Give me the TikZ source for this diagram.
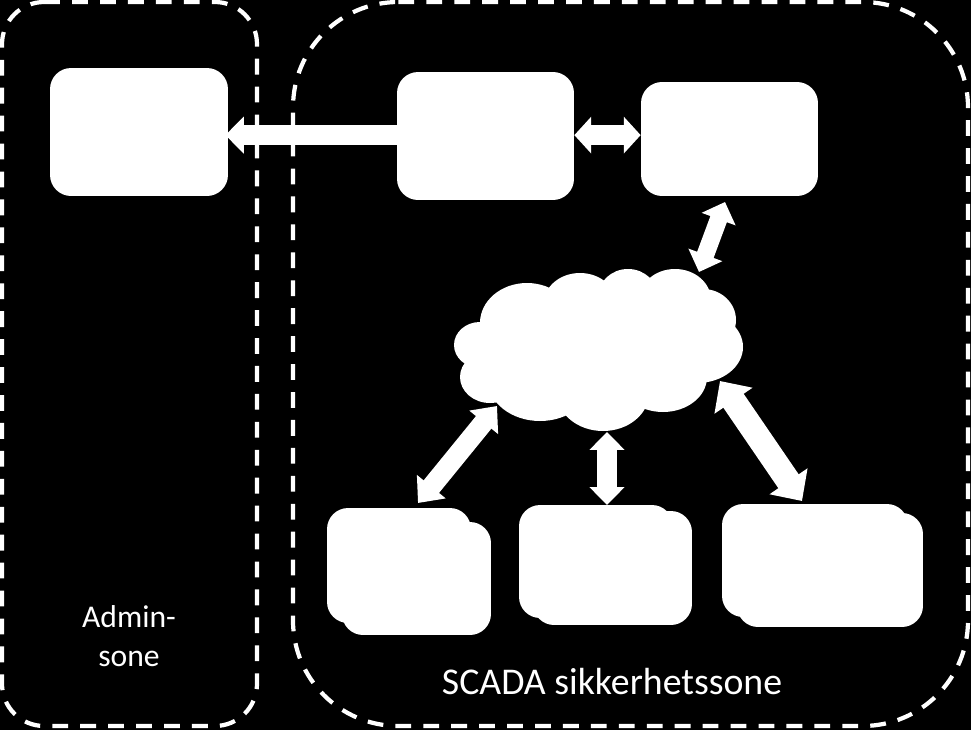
\documentclass[tikz,border=0pt]{standalone}
\usepackage{fontspec}
\setmainfont{Carlito}
\usetikzlibrary{arrows.meta,shapes.geometric}
\begin{document}
\begin{tikzpicture}[line cap=butt,line join=miter,x=0.02cm,y=-0.02cm,font=\fontsize{18}{22.6}\selectfont]
	\tikzset{
		zone/.style={draw=white,line width=2.4pt,dash pattern=on 9pt off 6.9pt},
		box/.style={fill=white,rounded corners=12pt,inner sep=0pt},
		link/.style n args={3}{draw=white,line width=#1pt,
			{Triangle[length=#2pt,width=#3pt,fill=white]}-{Triangle[length=#2pt,width=#3pt,fill=white]}},
		linkone/.style={draw=white,line width=11.3pt,-{Triangle[length=10.5pt,width=20.4pt,fill=white]}},
		label/.style={text=white,align=center,inner sep=0pt}}
	\path[use as bounding box,fill=black] (0,0) rectangle (971,730);
	%--------- Soner
	\draw[zone] (2,2) [rounded corners=24pt] -- (257,2) -- (257,726) -- (2,726) -- cycle;
	\draw[zone] (293,2) [rounded corners=60pt] -- (968,2) -- (968,726) -- (293,726) -- cycle;
	\node[label] (adminzone) at (129,636) {Admin-\\sone};
	\node[label,font=\fontsize{21.5}{26}\selectfont] (scadazone) at (612,682) {SCADA sikkerhetssone};
	%--------- Bokser
	\node[box,minimum width=3.56cm,minimum height=2.56cm] (admin) at (139,132) {};
	\node[box,minimum width=3.54cm,minimum height=2.56cm] (server) at (485.5,136) {};
	\node[box,minimum width=3.54cm,minimum height=2.28cm] (gateway) at (729.5,139) {};
	\node[box,minimum width=2.98cm,minimum height=2.26cm] (stackAback) at (416.5,578.5) {};
	\node[box,minimum width=2.88cm,minimum height=2.30cm] (stackA) at (399,565.5) {};
	\node[box,minimum width=3.18cm,minimum height=2.28cm] (stackBback) at (612.5,568) {};
	\node[box,minimum width=3.08cm,minimum height=2.26cm] (stackB) at (596,561.5) {};
	\node[box,minimum width=3.72cm,minimum height=2.28cm] (stackCback) at (830,570) {};
	\node[box,minimum width=3.72cm,minimum height=2.26cm] (stackC) at (815,560.5) {};
	%--------- Sky
	\node[ellipse,fill=white,minimum width=4.4cm,minimum height=2.4cm,inner sep=0pt] (net) at (600,350) {};
	\foreach \cx/\cy/\rx/\ry in {527/323/47/40,580/303/36/30,628/297/30/28,675/300/36/31,703/320/33/31,
		697/347/46/36,663/377/44/35,603/393/46/38,540/380/52/41,490/377/30/26,480/345/26/23}
		\fill[white] (\cx,\cy) ellipse [x radius=\rx,y radius=\ry];
	%--------- Piler
	\coordinate (gatewayend) at (725,202);
	\coordinate (nettop) at (699,272);
	\coordinate (netleft) at (497,406);
	\coordinate (stackAend) at (418,503);
	\coordinate (netmid) at (607,432);
	\coordinate (stackBend) at (607,505);
	\coordinate (netright) at (720,381);
	\coordinate (stackCend) at (802,501);
	\draw[linkone,shorten >=-1.7pt] ([yshift=0.5pt]server.west) -- ([yshift=0.5pt]admin.east |- server.west);
	\draw[link={11.3}{9.6}{20.4}] ([yshift=0.5pt]server.east) -- ([yshift=0.5pt]gateway.west |- server.east);
	\draw[link={10}{10.4}{20}] (gatewayend) -- (nettop);
	\draw[link={11.3}{12}{20.4}] (netleft) -- (stackAend);
	\draw[link={11.3}{10.2}{19.4}] (netmid) -- (stackBend);
	\draw[link={14}{13.6}{25.4}] (netright) -- (stackCend);
\end{tikzpicture}
\end{document}
